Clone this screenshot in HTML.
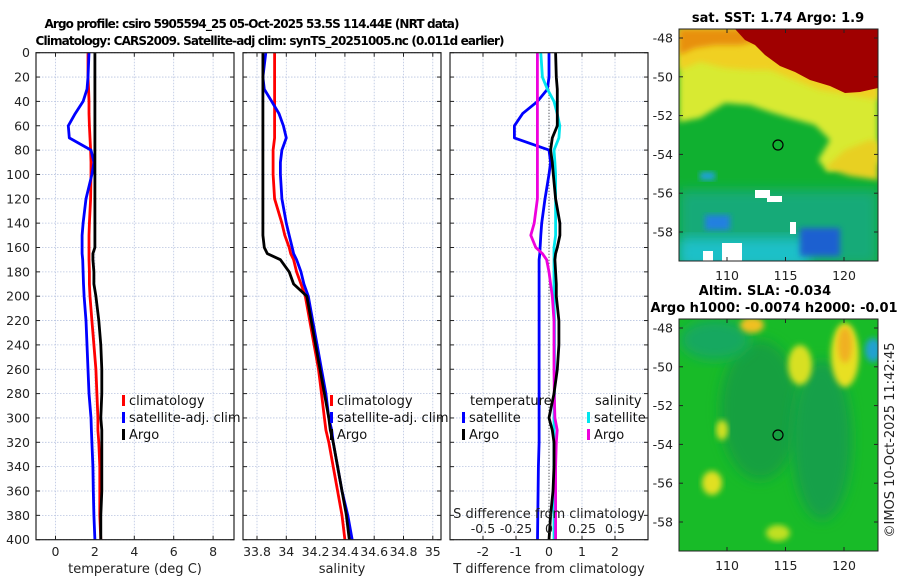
<!DOCTYPE html>
<html><head><meta charset="utf-8"><style>
body{margin:0;background:#fff;}
svg{display:block;font-family:"DejaVu Sans","Liberation Sans",sans-serif;}
</style></head><body>
<svg id="fig" width="900" height="580" viewBox="0 0 900 580">
<defs>
<filter id="bl" x="-20%" y="-20%" width="140%" height="140%"><feGaussianBlur stdDeviation="6"/></filter>
<filter id="bl2" x="-20%" y="-20%" width="140%" height="140%"><feGaussianBlur stdDeviation="3"/></filter>
<clipPath id="c1"><rect x="679" y="29" width="199" height="232"/></clipPath>
<clipPath id="c2"><rect x="679" y="319" width="199" height="232"/></clipPath>
</defs>
<text x="252" y="28" font-size="12" font-weight="bold" text-anchor="middle" textLength="415">Argo profile: csiro 5905594_25 05-Oct-2025 53.5S 114.44E (NRT data)</text>
<text x="270" y="45" font-size="12" font-weight="bold" text-anchor="middle" textLength="469">Climatology: CARS2009. Satellite-adj clim: synTS_20251005.nc (0.011d earlier)</text>

<!-- SST map -->
<g clip-path="url(#c1)">
<rect x="679" y="29" width="199" height="232" fill="#10b030"/>
<rect x="679" y="190" width="199" height="75" fill="#12aa78" filter="url(#bl)"/>
<rect x="679" y="238" width="130" height="30" fill="#1ec0c8" filter="url(#bl)"/>
<path d="M679 29 H878 V165 L860 160 L845 165 L828 172 L818 160 L830 140 L815 125 L790 118 L770 112 L750 105 L725 103 L700 118 L679 122 Z" fill="#d8ea30" filter="url(#bl2)"/>
<path d="M679 29 H878 V100 L850 95 L820 90 L795 80 L770 70 L750 70 L725 68 L700 62 L679 70 Z" fill="#f0d020" filter="url(#bl2)"/>
<path d="M679 29 H878 V70 L850 62 L820 55 L790 45 L760 40 L740 45 L715 45 L695 48 L679 55 Z" fill="#e89010" filter="url(#bl2)"/>
<path d="M735 29 H878 V88 L860 92 L845 93 L830 86 L810 80 L795 72 L780 66 L765 55 L755 45 L745 40 Z" fill="#a00000"/>
<path d="M825 168 L845 150 L870 140 L878 142 V180 L850 176 Z" fill="#e8d020" filter="url(#bl2)"/>
<rect x="700" y="172" width="15" height="8" fill="#20a0e0" filter="url(#bl2)"/>
<rect x="705" y="215" width="25" height="15" fill="#2080e0" filter="url(#bl2)"/>
<rect x="800" y="228" width="40" height="28" fill="#1a60d0" filter="url(#bl2)"/>
<rect x="755" y="190" width="15" height="8" fill="#fff"/>
<rect x="767" y="196" width="15" height="6" fill="#fff"/>
<rect x="790" y="222" width="6" height="12" fill="#fff"/>
<rect x="722" y="243" width="20" height="18" fill="#fff"/>
<rect x="703" y="251" width="10" height="10" fill="#fff"/>
</g>
<rect x="679" y="29" width="199" height="232" fill="none" stroke="#222" stroke-width="1"/>
<circle cx="778" cy="145" r="5" fill="none" stroke="#000" stroke-width="1.2"/>
<text x="778" y="22" font-size="13" font-weight="bold" text-anchor="middle">sat. SST: 1.74 Argo: 1.9</text>

<!-- SLA map -->
<g clip-path="url(#c2)">
<rect x="679" y="319" width="199" height="232" fill="#18bb28"/>
<ellipse cx="760" cy="410" rx="40" ry="70" fill="#14a040" filter="url(#bl)"/>
<ellipse cx="822" cy="440" rx="30" ry="80" fill="#14a048" filter="url(#bl)"/>
<ellipse cx="715" cy="340" rx="35" ry="20" fill="#18a860" filter="url(#bl)"/>
<ellipse cx="845" cy="355" rx="14" ry="32" fill="#e8e020" filter="url(#bl2)"/>
<ellipse cx="845" cy="345" rx="7" ry="18" fill="#f0b020" filter="url(#bl2)"/>
<ellipse cx="800" cy="365" rx="12" ry="20" fill="#d8e020" filter="url(#bl2)"/>
<ellipse cx="752" cy="325" rx="12" ry="8" fill="#f0c020" filter="url(#bl2)"/>
<ellipse cx="712" cy="483" rx="10" ry="12" fill="#e0e020" filter="url(#bl2)"/>
<ellipse cx="722" cy="430" rx="6" ry="10" fill="#d0e020" filter="url(#bl2)"/>
<ellipse cx="778" cy="533" rx="12" ry="8" fill="#c0e020" filter="url(#bl2)"/>
<ellipse cx="873" cy="350" rx="8" ry="12" fill="#20a0d0" filter="url(#bl2)"/>
</g>
<rect x="679" y="319" width="199" height="232" fill="none" stroke="#222" stroke-width="1"/>
<circle cx="778" cy="435" r="5" fill="none" stroke="#000" stroke-width="1.2"/>
<text x="765" y="295" font-size="13" font-weight="bold" text-anchor="middle">Altim. SLA: -0.034</text>
<text x="774" y="312" font-size="13" font-weight="bold" text-anchor="middle">Argo h1000: -0.0074 h2000: -0.01</text>
<text transform="translate(894,440) rotate(-90)" font-size="13" text-anchor="middle" fill="#222">©IMOS 10-Oct-2025 11:42:45</text>
<g id="dyn"></g>
</svg>
<script>
// data
const depths = [0,20,30,40,50,60,70,80,90,100,120,140,150,160,165,170,180,190,200,220,240,260,280,300,310,320,340,360,380,400];
const tempArgo = [2.0,2.0,2.0,2.0,2.0,2.0,2.0,2.0,2.0,2.0,2.0,2.0,2.0,2.0,1.9,1.9,1.95,1.95,2.05,2.2,2.3,2.35,2.35,2.3,2.35,2.35,2.35,2.35,2.3,2.3];
const tempClim = [1.65,1.65,1.68,1.7,1.7,1.72,1.75,1.78,1.8,1.8,1.78,1.72,1.7,1.7,1.7,1.7,1.72,1.72,1.75,1.85,1.95,2.05,2.1,2.15,2.15,2.2,2.25,2.25,2.25,2.3];
const tempSat = [1.7,1.65,1.6,1.4,1.0,0.65,0.7,1.8,1.95,1.85,1.55,1.4,1.35,1.35,1.35,1.38,1.4,1.42,1.45,1.55,1.6,1.65,1.7,1.8,1.82,1.85,1.9,1.92,1.95,2.0];
const salArgo = [33.84,33.84,33.84,33.84,33.84,33.84,33.84,33.84,33.84,33.84,33.84,33.84,33.84,33.85,33.87,33.96,34.02,34.05,34.14,34.17,34.2,34.23,34.26,34.29,34.3,34.32,34.35,34.38,34.41,34.43];
const salClim = [33.92,33.92,33.92,33.92,33.92,33.92,33.92,33.91,33.91,33.91,33.92,33.97,33.99,34.02,34.03,34.05,34.07,34.1,34.13,34.16,34.19,34.22,34.24,34.26,34.27,34.29,34.32,34.35,34.38,34.4];
const salSat = [33.86,33.84,33.85,33.9,33.95,33.98,34.0,33.97,33.96,33.96,33.97,34.0,34.02,34.04,34.05,34.07,34.1,34.12,34.15,34.18,34.21,34.24,34.27,34.29,34.31,34.32,34.35,34.38,34.42,34.45];
const dTempSat = [0,0,-0.05,-0.35,-0.8,-1.05,-1.05,0,0.05,0,-0.12,-0.22,-0.25,-0.27,-0.28,-0.3,-0.3,-0.3,-0.3,-0.3,-0.3,-0.3,-0.3,-0.3,-0.3,-0.3,-0.32,-0.33,-0.34,-0.35];
const dTempArgo = [0.2,0.22,0.25,0.25,0.25,0.25,0.1,0.05,0.1,0.13,0.2,0.33,0.33,0.25,0.2,0.18,0.2,0.22,0.22,0.3,0.3,0.25,0.15,0.0,0.1,0.15,0.15,0.12,0.05,0.0];
const dSalSat = [-0.062,-0.05,-0.012,0.038,0.062,0.082,0.075,0.038,0.045,0.05,0.05,0.05,0.05,0.038,0.038,0.038,0.038,0.038,0.038,0.042,0.042,0.042,0.042,0.038,0.038,0.038,0.038,0.038,0.038,0.038];
const dSalArgo = [-0.088,-0.088,-0.088,-0.088,-0.088,-0.088,-0.088,-0.088,-0.088,-0.088,-0.088,-0.112,-0.138,-0.1,-0.05,-0.018,0,0.012,0.025,0.038,0.038,0.038,0.04,0.045,0.062,0.055,0.05,0.05,0.05,0.05];
const depthTicks = [0,20,40,60,80,100,120,140,160,180,200,220,240,260,280,300,320,340,360,380,400];
const tempTicks = [0,2,4,6,8];
const salTicks = [33.8,34,34.2,34.4,34.6,34.8,35];
const dTempTicks = [-2,-1,0,1,2];
const dSalTicks = [-0.5,-0.25,0,0.25,0.5];
const latTicks = [-48,-50,-52,-54,-56,-58];
const lonTicks = [110,115,120];

const NS="http://www.w3.org/2000/svg";
const g=document.getElementById('dyn');
function mk(tag,attrs,parent){const e=document.createElementNS(NS,tag);for(const k in attrs)e.setAttribute(k,attrs[k]);(parent||g).appendChild(e);return e;}
const yD=d=>52.7+d*1.2175;
const xT=v=>55.5+v*19.7;
const xS=v=>257+(v-33.8)*146.5;
const xDT=v=>549+v*33;
const xDS=v=>549+v*132;
const panels=[{x0:36,x1:234,sx:xT,ticks:tempTicks,label:'temperature (deg C)',name:'temperature'},
 {x0:243,x1:441,sx:xS,ticks:salTicks,label:'salinity',name:'salinity'},
 {x0:450,x1:648,sx:xDT,ticks:dTempTicks,label:'T difference from climatology',name:'difference'}];
panels.forEach((p,i)=>{
  const pg=mk('g',{});
  
  
  depthTicks.forEach(d=>{mk('line',{x1:p.x0,x2:p.x1,y1:yD(d),y2:yD(d),stroke:'#b8c4e0','stroke-width':0.8,'stroke-dasharray':'1.5,1.5'},pg);});
  p.ticks.forEach(t=>{mk('line',{x1:p.sx(t),x2:p.sx(t),y1:yD(0),y2:yD(400),stroke:'#b8c4e0','stroke-width':0.8,'stroke-dasharray':'1.5,1.5'},pg);});
  depthTicks.forEach(d=>{mk('line',{x1:p.x0,x2:p.x0+4,y1:yD(d),y2:yD(d),stroke:'#222'},pg);mk('line',{x1:p.x1,x2:p.x1-4,y1:yD(d),y2:yD(d),stroke:'#222'},pg);});
  p.ticks.forEach(t=>{mk('line',{x1:p.sx(t),x2:p.sx(t),y1:yD(0),y2:yD(0)+4,stroke:'#222'},pg);mk('line',{x1:p.sx(t),x2:p.sx(t),y1:yD(400),y2:yD(400)-4,stroke:'#222'},pg);
    const tx=mk('text',{x:p.sx(t),y:556,'font-size':12.5,'text-anchor':'middle',fill:'#222'},pg);tx.textContent=String(t);
    
    });
  const lab=mk('text',{x:(p.x0+p.x1)/2,y:573,'font-size':13,'text-anchor':'middle',fill:'#222'},pg);lab.textContent=p.label;
  
  
  if(i===0){depthTicks.forEach(d=>{const tx=mk('text',{x:30,y:yD(d)+4.5,'font-size':12.5,'text-anchor':'end',fill:'#222'},pg);tx.textContent=String(d);
    
    });}
});
function line(vals,sx,color,name){
  const pts=vals.map((v,i)=>sx(v).toFixed(1)+','+yD(depths[i]).toFixed(1)).join(' ');
  const e=mk('polyline',{points:pts,fill:'none',stroke:color,'stroke-width':2.8,'stroke-linejoin':'round'});
  
  
}
line(tempClim,xT,'#ff0000','temp-climatology-line');
line(tempSat,xT,'#0000ff','temp-satellite-line');
line(tempArgo,xT,'#000','temp-argo-line');
line(salClim,xS,'#ff0000','sal-climatology-line');
line(salSat,xS,'#0000ff','sal-satellite-line');
line(salArgo,xS,'#000','sal-argo-line');
const z=mk('line',{x1:xDT(0),x2:xDT(0),y1:yD(0),y2:yD(400),stroke:'#333','stroke-width':1,'stroke-dasharray':'1,2'});


line(dTempSat,xDT,'#0000ff','dtemp-satellite-line');
line(dSalSat,xDS,'#00e5ee','dsal-satellite-line');
line(dSalArgo,xDS,'#ee00dd','dsal-argo-line');
line(dTempArgo,xDT,'#000','dtemp-argo-line');
panels.forEach(p=>{mk('rect',{x:p.x0,y:yD(0),width:p.x1-p.x0,height:yD(400)-yD(0),fill:'none',stroke:'#222','stroke-width':1.2});});
dSalTicks.forEach(t=>{const tx=mk('text',{x:xDS(t),y:533,'font-size':12.5,'text-anchor':'middle',fill:'#222'});tx.textContent=String(t);
  
  });
const st=mk('text',{x:549,y:518,'font-size':13,'text-anchor':'middle',fill:'#222'});st.textContent='S difference from climatology';


function leg(x,y,color,label,name){
  mk('rect',{x:x,y:y-10,width:3,height:11,fill:color});
  const t=mk('text',{x:x+7,y:y,'font-size':13,fill:'#111'});t.textContent=label;
  
  
}
leg(122,405,'#ff0000','climatology','legend-climatology');
leg(122,422,'#0000ff','satellite-adj. clim','legend-satellite');
leg(122,439,'#000','Argo','legend-argo');
leg(330,405,'#ff0000','climatology','legend-climatology-2');
leg(330,422,'#0000ff','satellite-adj. clim','legend-satellite-2');
leg(330,439,'#000','Argo','legend-argo-2');
const lt=mk('text',{x:470,y:405,'font-size':13,fill:'#111'});lt.textContent='temperature';


leg(462,422,'#0000ff','satellite','legend-t-satellite');
leg(462,439,'#000','Argo','legend-t-argo');
const ls=mk('text',{x:595,y:405,'font-size':13,fill:'#111'});ls.textContent='salinity';


leg(587,422,'#00e5ee','satellite','legend-s-satellite');
leg(587,439,'#ee00dd','Argo','legend-s-argo');
const mapYs=[{top:38,name:'sst'},{top:328,name:'sla'}];
mapYs.forEach(m=>{
  latTicks.forEach(la=>{const y=m.top+(-48-la)/2*38.8;
    mk('line',{x1:679,x2:683,y1:y,y2:y,stroke:'#222'});mk('line',{x1:878,x2:874,y1:y,y2:y,stroke:'#222'});
    const t=mk('text',{x:673,y:y+4.5,'font-size':12.5,'text-anchor':'end',fill:'#222'});t.textContent=String(la);
    
    });
  const bot=m.top+223;
  lonTicks.forEach(lo=>{const x=727+(lo-110)*11.7;
    mk('line',{x1:x,x2:x,y1:bot,y2:bot-4,stroke:'#222'});mk('line',{x1:x,x2:x,y1:m.top-9,y2:m.top-5,stroke:'#222'});
    const t=mk('text',{x:x,y:bot+19,'font-size':12.5,'text-anchor':'middle',fill:'#222'});t.textContent=String(lo);
    
    });
});
</script>
</body></html>
